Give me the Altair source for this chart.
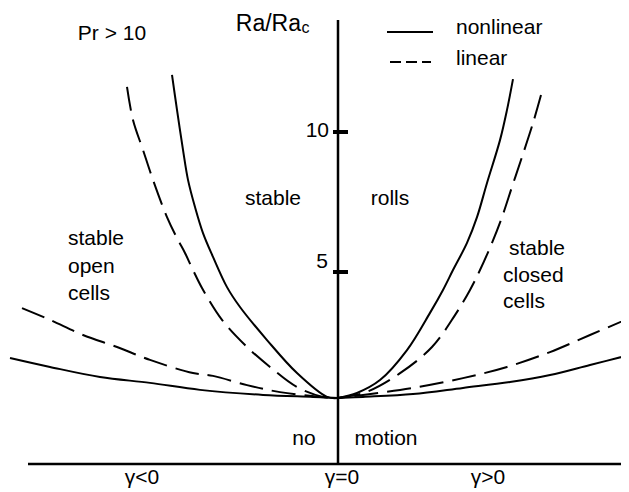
import altair as alt
import pandas as pd

# ---- curve data (gamma, Ra/Ra_c) ----
NL_LEFT_INNER_G = [-1.66, -1.61, -1.55, -1.50, -1.43, -1.35, -1.25, -1.11, -0.98, -0.71, -0.41, -0.11, 0.0]
NL_LEFT_INNER_V = [12.04, 10.79, 9.36, 8.29, 7.32, 6.39, 5.54, 4.46, 3.75, 2.57, 1.39, 0.54, 0.50]
LIN_LEFT_INNER_G = [-2.11, -2.05, -1.95, -1.85, -1.71, -1.61, -1.53, -1.45, -1.36, -1.16, -0.93, -0.68, -0.41, -0.15, 0.0]
LIN_LEFT_INNER_V = [11.61, 10.43, 9.36, 8.29, 6.96, 6.21, 5.68, 5.07, 4.43, 3.29, 2.39, 1.61, 0.89, 0.54, 0.50]
LIN_LEFT_OUTER_G = [-3.16, -2.88, -2.55, -2.21, -1.88, -1.45, -1.25, -0.91, -0.58, -0.18, 0.0]
LIN_LEFT_OUTER_V = [3.71, 3.29, 2.75, 2.32, 1.86, 1.39, 1.29, 0.96, 0.71, 0.54, 0.50]
NL_LEFT_OUTER_G = [-3.28, -2.88, -2.38, -1.88, -1.38, -0.75, -0.25, 0.0]
NL_LEFT_OUTER_V = [1.93, 1.61, 1.25, 1.04, 0.79, 0.61, 0.54, 0.50]
NL_RIGHT_INNER_G = [1.75, 1.69, 1.62, 1.49, 1.39, 1.29, 1.15, 1.05, 0.92, 0.69, 0.42, 0.19, 0.0]
NL_RIGHT_INNER_V = [11.89, 10.79, 9.71, 8.18, 6.96, 6.04, 5.07, 4.36, 3.54, 2.21, 1.14, 0.68, 0.50]
LIN_RIGHT_INNER_G = [2.03, 1.95, 1.83, 1.74, 1.64, 1.54, 1.42, 1.32, 1.17, 0.94, 0.61, 0.28, 0.0]
LIN_RIGHT_INNER_V = [11.32, 10.32, 9.00, 8.04, 6.96, 6.04, 5.07, 4.36, 3.46, 2.32, 1.36, 0.71, 0.50]
LIN_RIGHT_OUTER_G = [2.92, 2.52, 2.12, 1.69, 1.25, 0.75, 0.25, 0.0]
LIN_RIGHT_OUTER_V = [3.36, 2.75, 2.14, 1.61, 1.21, 0.86, 0.61, 0.50]
NL_RIGHT_OUTER_G = [2.92, 2.52, 2.12, 1.72, 1.25, 0.75, 0.25, 0.0]
NL_RIGHT_OUTER_V = [2.04, 1.68, 1.32, 1.07, 0.86, 0.64, 0.54, 0.50]

TICK_VALUES = [10, 5]
TICK_LABELS = ["10", "5"]
REGION_LABELS = ["stable", "rolls", "stable", "open", "cells", "stable", "closed", "cells", "no", "motion"]
GAMMA_LABELS = ["γ<0", "γ=0", "γ>0"]
LEGEND_LABELS = ["nonlinear", "linear"]

# ---- layout (data units) ----
W, H = 613, 484
XDOM = [-3.30, 2.83]
YDOM = [(404 - H) / 28, 14.4286]
FONT = "Liberation Sans"
FS = 21

def curve_df(name, g, v):
    return pd.DataFrame({"g": g, "v": v, "curve": name, "i": range(len(g))})

solid = pd.concat([
    curve_df("nl_li", NL_LEFT_INNER_G, NL_LEFT_INNER_V),
    curve_df("nl_lo", NL_LEFT_OUTER_G, NL_LEFT_OUTER_V),
    curve_df("nl_ri", NL_RIGHT_INNER_G, NL_RIGHT_INNER_V),
    curve_df("nl_ro", NL_RIGHT_OUTER_G, NL_RIGHT_OUTER_V),
])
dashed = pd.concat([
    curve_df("lin_li", LIN_LEFT_INNER_G, LIN_LEFT_INNER_V),
    curve_df("lin_lo", LIN_LEFT_OUTER_G, LIN_LEFT_OUTER_V),
    curve_df("lin_ri", LIN_RIGHT_INNER_G, LIN_RIGHT_INNER_V),
    curve_df("lin_ro", LIN_RIGHT_OUTER_G, LIN_RIGHT_OUTER_V),
])

xs = alt.Scale(domain=XDOM, nice=False, zero=False)
ys = alt.Scale(domain=YDOM, nice=False, zero=False)
X = lambda f="g": alt.X(f, type="quantitative", scale=xs, axis=None)
Y = lambda f="v": alt.Y(f, type="quantitative", scale=ys, axis=None)

solid_layer = alt.Chart(solid).mark_line(
    color="black", strokeWidth=2, interpolate="catmull-rom", clip=True
).encode(x=X(), y=Y(), detail="curve:N", order="i:Q")
dashed_layer = alt.Chart(dashed).mark_line(
    color="black", strokeWidth=2, strokeDash=[24, 9], interpolate="catmull-rom", clip=True
).encode(x=X(), y=Y(), detail="curve:N", order="i:Q")

# axes drawn as rules
axis_v = alt.Chart(pd.DataFrame({"g": [0.0], "v": [14.0], "v2": [-1.857]})).mark_rule(
    color="black", strokeWidth=2.5).encode(x=X(), y=Y(), y2="v2:Q")
axis_h = alt.Chart(pd.DataFrame({"g": [-3.10], "g2": [2.95], "v": [-1.857]})).mark_rule(
    color="black", strokeWidth=2.5, clip=True).encode(x=X(), x2="g2:Q", y=Y())
ticks = alt.Chart(pd.DataFrame({"g": [-0.05] * 2, "g2": [0.10] * 2, "v": TICK_VALUES})).mark_rule(
    color="black", strokeWidth=4).encode(x=X(), x2="g2:Q", y=Y())
tick_text = alt.Chart(pd.DataFrame({
    "t": TICK_LABELS, "g": [-0.09, -0.10], "v": [9.82, 5.14]})).mark_text(
    font=FONT, fontSize=FS, align="right", baseline="alphabetic", color="black").encode(
    x=X(), y=Y(), text="t:N")

# region labels
reg_pos_g = [-0.65, 0.52, -2.70, -2.70, -2.70, 1.71, 1.65, 1.65, -0.34, 0.48]
reg_pos_v = [7.39, 7.39, 5.96, 4.96, 4.00, 5.61, 4.64, 3.71, -1.18, -1.18]
reg_align = ["center", "center", "left", "left", "left", "left", "left", "left", "center", "center"]
reg_df = pd.DataFrame({"t": REGION_LABELS, "g": reg_pos_g, "v": reg_pos_v, "a": reg_align})
reg_center = alt.Chart(reg_df[reg_df.a == "center"]).mark_text(
    font=FONT, fontSize=FS, align="center", baseline="alphabetic", color="black").encode(
    x=X(), y=Y(), text="t:N")
reg_left = alt.Chart(reg_df[reg_df.a == "left"]).mark_text(
    font=FONT, fontSize=FS, align="left", baseline="alphabetic", color="black").encode(
    x=X(), y=Y(), text="t:N")

gam = alt.Chart(pd.DataFrame({"t": GAMMA_LABELS, "g": [-1.96, 0.04, 1.50], "v": [-2.57] * 3})).mark_text(
    font=FONT, fontSize=FS, align="center", baseline="alphabetic", color="black").encode(
    x=X(), y=Y(), text="t:N")

pr = alt.Chart(pd.DataFrame({"t": ["Pr > 10"], "g": [-2.26], "v": [13.29]})).mark_text(
    font=FONT, fontSize=FS, align="center", baseline="alphabetic", color="black").encode(
    x=X(), y=Y(), text="t:N")
ra = alt.Chart(pd.DataFrame({"t": ["Ra/Ra"], "g": [-0.37], "v": [13.61]})).mark_text(
    font=FONT, fontSize=23, align="right", baseline="alphabetic", color="black").encode(
    x=X(), y=Y(), text="t:N")
ra_sub = alt.Chart(pd.DataFrame({"t": ["c"], "g": [-0.365], "v": [13.52]})).mark_text(
    font=FONT, fontSize=16, align="left", baseline="alphabetic", color="black").encode(
    x=X(), y=Y(), text="t:N")

leg_solid = alt.Chart(pd.DataFrame({"g": [0.49], "g2": [0.95], "v": [13.57]})).mark_rule(
    color="black", strokeWidth=2).encode(x=X(), x2="g2:Q", y=Y())
leg_dash = alt.Chart(pd.DataFrame({"g": [0.52], "g2": [0.93], "v": [12.5]})).mark_rule(
    color="black", strokeWidth=2, strokeDash=[11, 5]).encode(x=X(), x2="g2:Q", y=Y())
leg_text = alt.Chart(pd.DataFrame({"t": LEGEND_LABELS, "g": [1.18, 1.18], "v": [13.5, 12.39]})).mark_text(
    font=FONT, fontSize=FS, align="left", baseline="alphabetic", color="black").encode(
    x=X(), y=Y(), text="t:N")

chart = alt.layer(
    axis_h, axis_v, ticks, tick_text, solid_layer, dashed_layer,
    reg_center, reg_left, gam, pr, ra, ra_sub, leg_solid, leg_dash, leg_text
).properties(
    width=W, height=H, padding=0, autosize=alt.AutoSizeParams(type="none"),
    background="white"
).configure_view(stroke=None)

chart.save("out.html", embed_options={"renderer": "svg", "actions": False})
